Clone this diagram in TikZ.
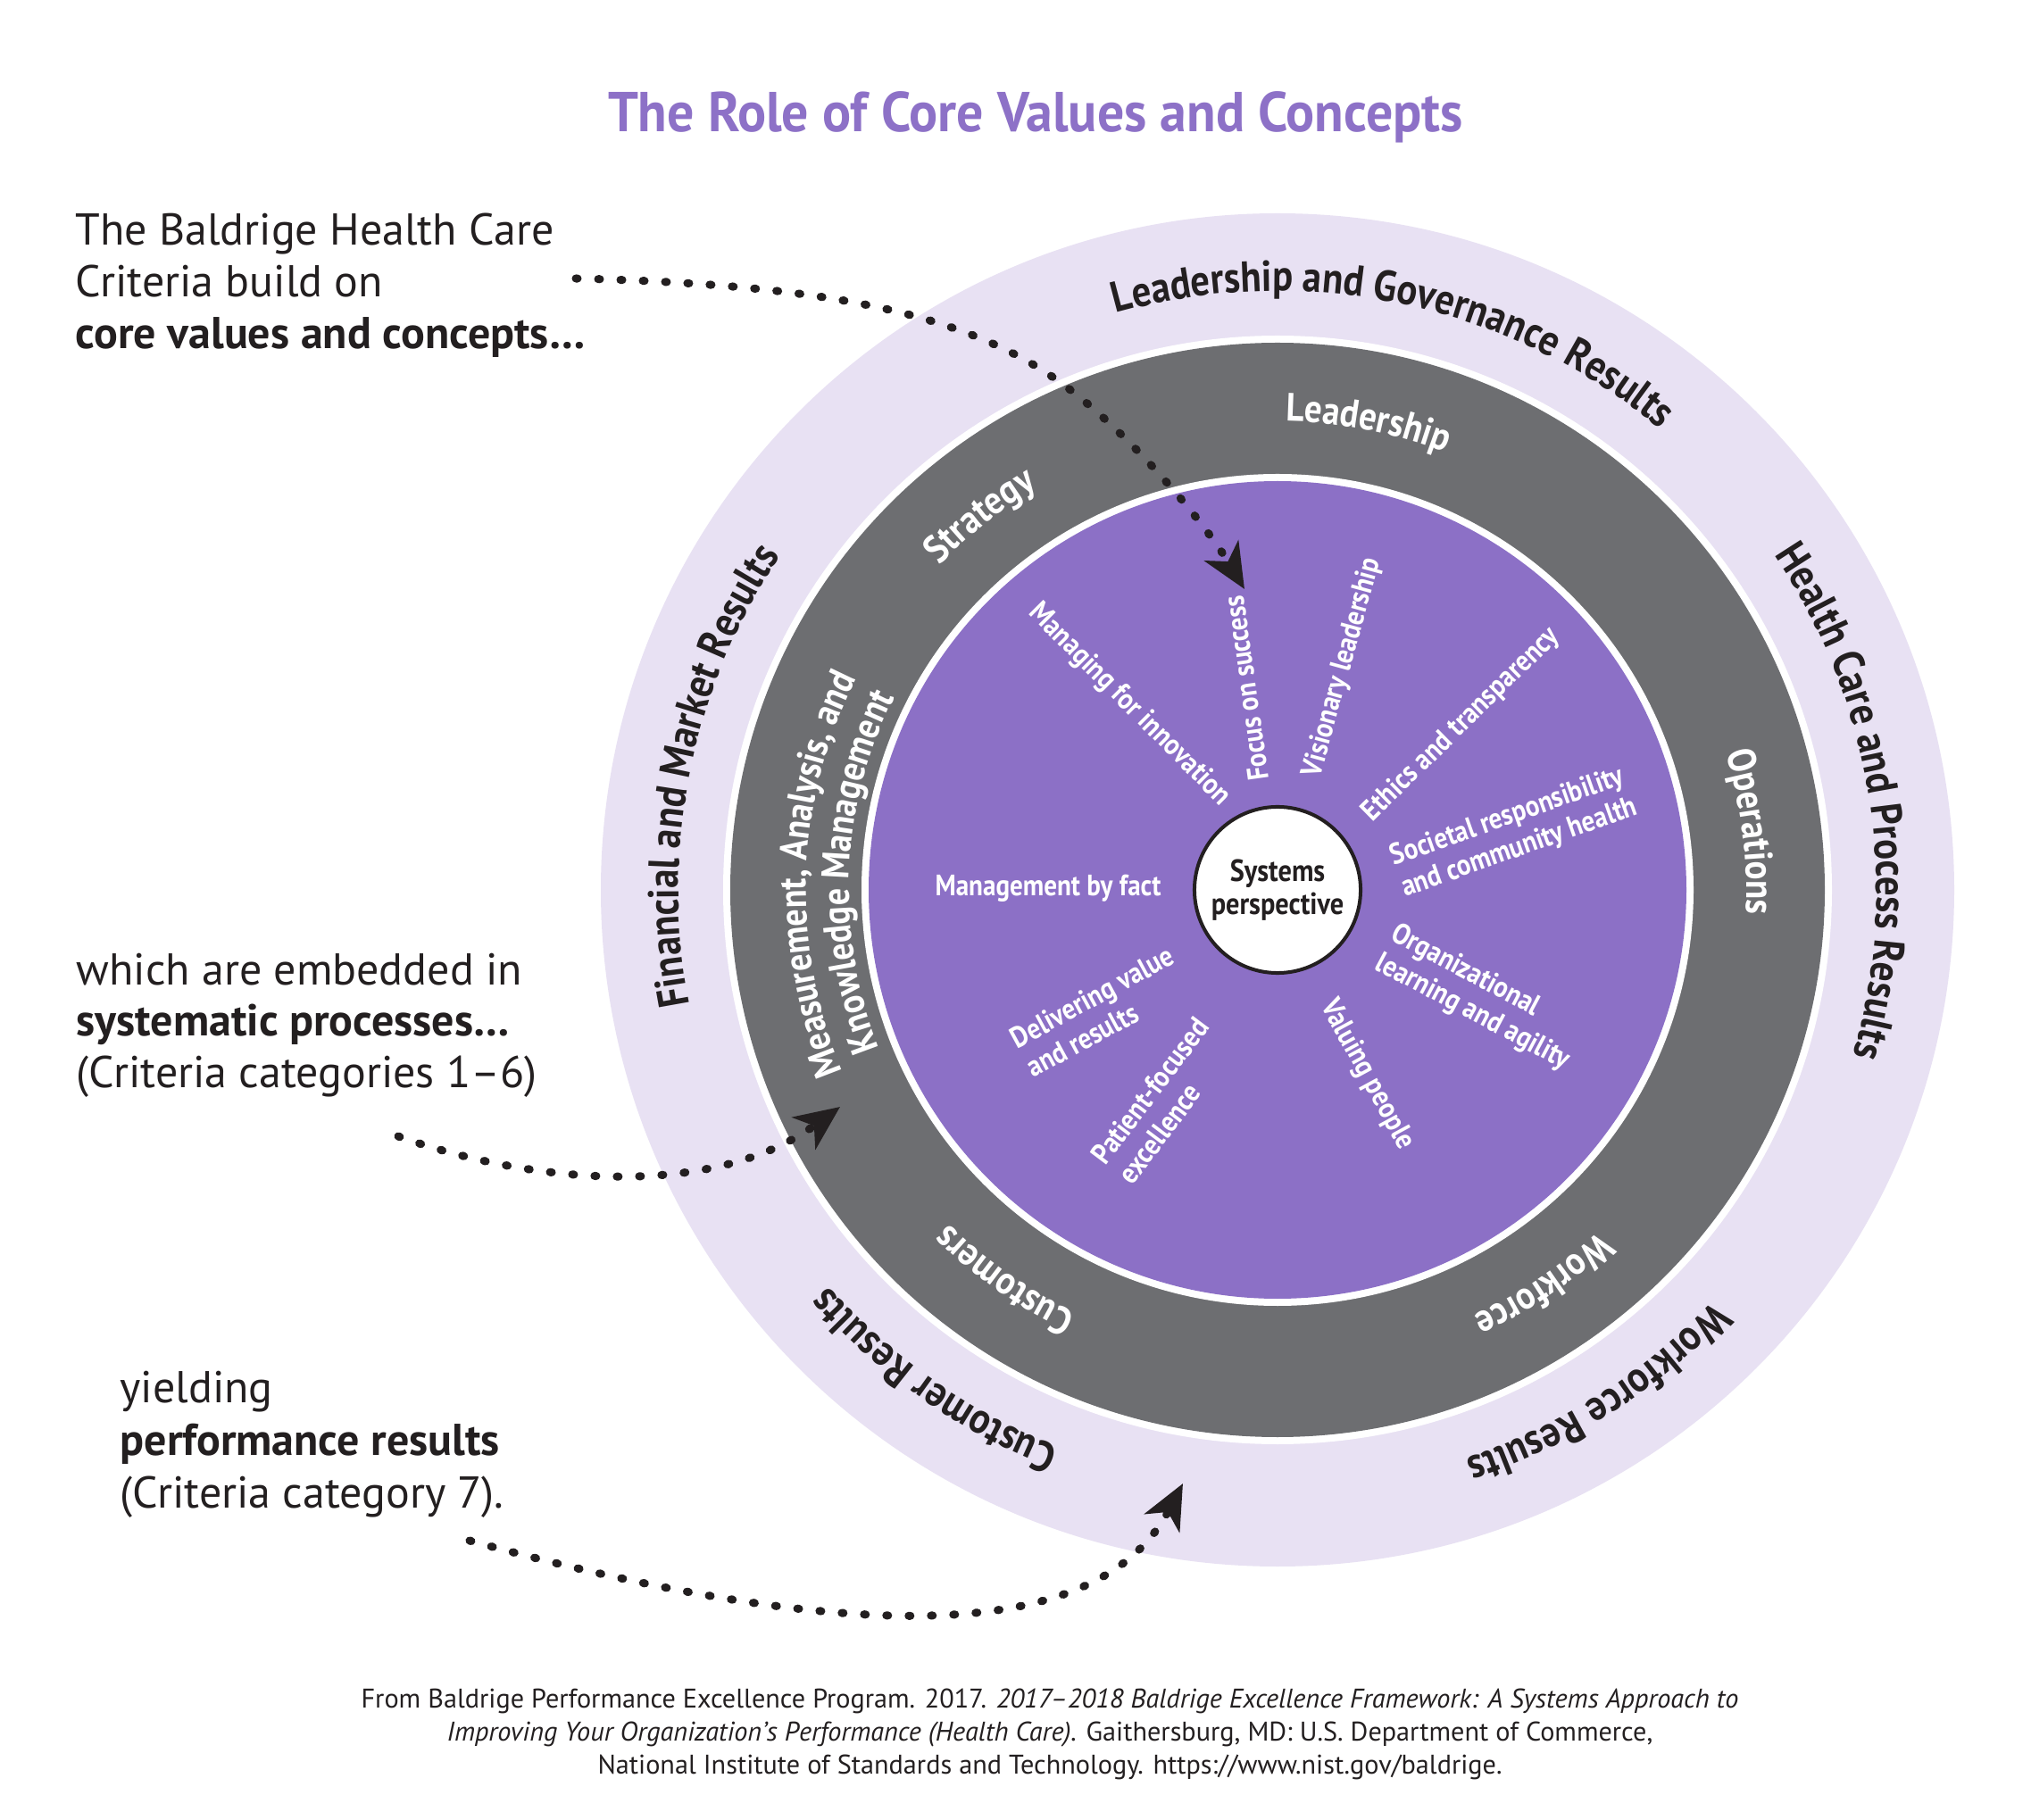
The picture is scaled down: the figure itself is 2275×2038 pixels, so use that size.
\documentclass[tikz,border=0pt]{standalone}
\usepackage{fontspec}
\setmainfont{PT Sans}
\newfontfamily\cfont[FakeStretch=0.88]{PT Sans}
\newfontfamily\tfont[FakeStretch=0.95]{PT Sans}
\usetikzlibrary{decorations.text,arrows.meta}
\definecolor{lav}{HTML}{E8E1F3}
\definecolor{ringgray}{HTML}{6D6E71}
\definecolor{vpurple}{HTML}{8C70C6}
\definecolor{titlepurple}{HTML}{8D71C7}
\definecolor{inkdark}{HTML}{231F20}
\newcommand\outerfont{\cfont\bfseries\fontsize{13.8}{16}\selectfont}
\newcommand\grayfont{\cfont\bfseries\fontsize{12.6}{14}\selectfont}
\newcommand\mkfont{\cfont\bfseries\fontsize{12.3}{14}\selectfont}
\begin{document}
\begin{tikzpicture}[x=0.01cm,y=0.01cm,
  inlab/.style={text=white, font=\cfont\bfseries\fontsize{9.4}{10.6}\selectfont, align=left, inner sep=0pt},
  lefttext/.style={anchor=base west, inner sep=0pt, font=\fontsize{14.2}{17}\selectfont, text=inkdark},
  leftbold/.style={lefttext, font=\bfseries\fontsize{14.2}{17}\selectfont},
  foot/.style={anchor=base, inner sep=0pt, font=\fontsize{8.6}{10}\selectfont, text=inkdark},
  dotarrow/.style={draw=inkdark, line width=0.09cm, line cap=round, dash pattern=on 0.02cm off 0.23cm,
    -{Stealth[length=0.5cm,width=0.44cm,inset=0.14cm]}},
  outerlab/.style={decorate, decoration={text along path, text align=center, text color=inkdark, text={|\outerfont|#1}}},
  graylab/.style={decorate, decoration={text along path, text align=center, text color=white, text={|\grayfont|#1}}},
  mklab/.style={decorate, decoration={text along path, text align=center, text color=white, text={|\mkfont|#1}}},
]
\useasboundingbox (0,0) rectangle (2275,2038);
\fill[white] (0,0) rectangle (2275,2038);

% title
\node[anchor=base, inner sep=0pt, text=titlepurple, font=\tfont\bfseries\fontsize{17.9}{20}\selectfont] (title) at (1160,1890) {The Role of Core Values and Concepts};

% rings
\coordinate (C) at (1431,1041);
\fill[lav] (C) circle[radius=758];
\fill[white] (C) circle[radius=621];
\fill[ringgray] (C) circle[radius=613];
\fill[white] (C) circle[radius=466];
\fill[vpurple] (C) circle[radius=458];

% outer ring labels
\path[outerlab={Financial and Market Results}] ([shift={(213.6:671)}]C) arc[start angle=213.6, end angle=123.6, radius=671];
\path[outerlab={Leadership and Governance Results}] ([shift={(123:671)}]C) arc[start angle=123, end angle=33, radius=671];
\path[outerlab={Health Care and Process Results}] ([shift={(54:671)}]C) arc[start angle=54, end angle=-36, radius=671];
\path[outerlab={Workforce Results}] ([shift={(-12.5:671)}]C) arc[start angle=-12.5, end angle=-102.5, radius=671];
\path[outerlab={Customer Results}] ([shift={(-80:671)}]C) arc[start angle=-80, end angle=-170, radius=671];

% gray ring labels
\path[graylab={Leadership}] ([shift={(124:525)}]C) arc[start angle=124, end angle=34, radius=525];
\path[graylab={Strategy}] ([shift={(173.5:525)}]C) arc[start angle=173.5, end angle=83.5, radius=525];
\path[graylab={Operations}] ([shift={(52:525)}]C) arc[start angle=52, end angle=-38, radius=525];
\path[graylab={Workforce}] ([shift={(-11:525)}]C) arc[start angle=-11, end angle=-101, radius=525];
\path[graylab={Customers}] ([shift={(-80:525)}]C) arc[start angle=-80, end angle=-170, radius=525];
\path[mklab={Measurement, Analysis, and}] ([shift={(223:528)}]C) arc[start angle=223, end angle=133, radius=528];
\path[mklab={Knowledge Management}] ([shift={(222.5:480)}]C) arc[start angle=222.5, end angle=132.5, radius=480];

% core values
\node[inlab, rotate=-45] (cv1) at (1265,1248) {Managing for innovation};
\node[inlab, rotate=98] (cv2) at (1396,1267) {Focus on success};
\node[inlab, rotate=74.6] (cv3) at (1504,1290) {Visionary leadership};
\node[inlab, rotate=44.5] (cv4) at (1637,1226) {Ethics and transparency};
\node[inlab, rotate=19.5] (cv5) at (1696,1105) {Societal responsibility\\and community health};
\node[inlab, rotate=-28] (cv6) at (1658,920) {Organizational\\learning and agility};
\node[inlab, rotate=-61.5] (cv7) at (1531,834) {Valuing people};
\node[inlab, rotate=53] (cv8) at (1303,805) {Patient-focused\\excellence};
\node[inlab, rotate=28.5] (cv9) at (1232,905) {Delivering value\\and results};
\node[inlab] (cv10) at (1174,1043) {Management by fact};

% center
\node[circle, draw=inkdark, line width=0.04cm, fill=white, minimum size=1.86cm, inner sep=0pt, align=center,
  font=\cfont\bfseries\fontsize{9.8}{10.4}\selectfont, text=inkdark] (sys) at (C) {Systems\\perspective};

% left texts
\node[lefttext] (l1a) at (84,1763) {The Baldrige Health Care};
\node[lefttext] (l1b) at (84,1705) {Criteria build on};
\node[leftbold] (l1c) at (84,1647) {core values and concepts…};
\node[lefttext] (l2a) at (85,934) {which are embedded in};
\node[leftbold] (l2b) at (85,877) {systematic processes…};
\node[lefttext] (l2c) at (85,819) {(Criteria categories 1–6)};
\node[lefttext] (l3a) at (134,467) {yielding};
\node[leftbold] (l3b) at (134,408) {performance results};
\node[lefttext] (l3c) at (134,349) {(Criteria category 7).};

% arrows
\coordinate (a1s) at (645,1726);
\coordinate (a1m) at (1180,1615);
\coordinate (a1e) at (1394,1378);
\draw[dotarrow] (a1s) .. controls (880,1720) and (1060,1698) .. (a1m) .. controls (1260,1560) and (1349,1453) .. (a1e);
\coordinate (a2s) at (446,765);
\coordinate (a2e) at (941,798);
\draw[dotarrow] (a2s) .. controls (600,710) and (800,695) .. (a2e);
\coordinate (a3s) at (526,312);
\coordinate (a3e) at (1325,376);
\draw[dotarrow] (a3s) .. controls (926,202) and (1225,186) .. (a3e);

% footer
\node[foot] (f1) at (1176,125) {From Baldrige Performance Excellence Program. 2017. \textit{2017–2018 Baldrige Excellence Framework: A Systems Approach to}};
\node[foot] (f2) at (1176,88) {\textit{Improving Your Organization’s Performance (Health Care).} Gaithersburg, MD: U.S. Department of Commerce,};
\node[foot] (f3) at (1176,51) {National Institute of Standards and Technology. https://www.nist.gov/baldrige.};
\end{tikzpicture}
\end{document}
